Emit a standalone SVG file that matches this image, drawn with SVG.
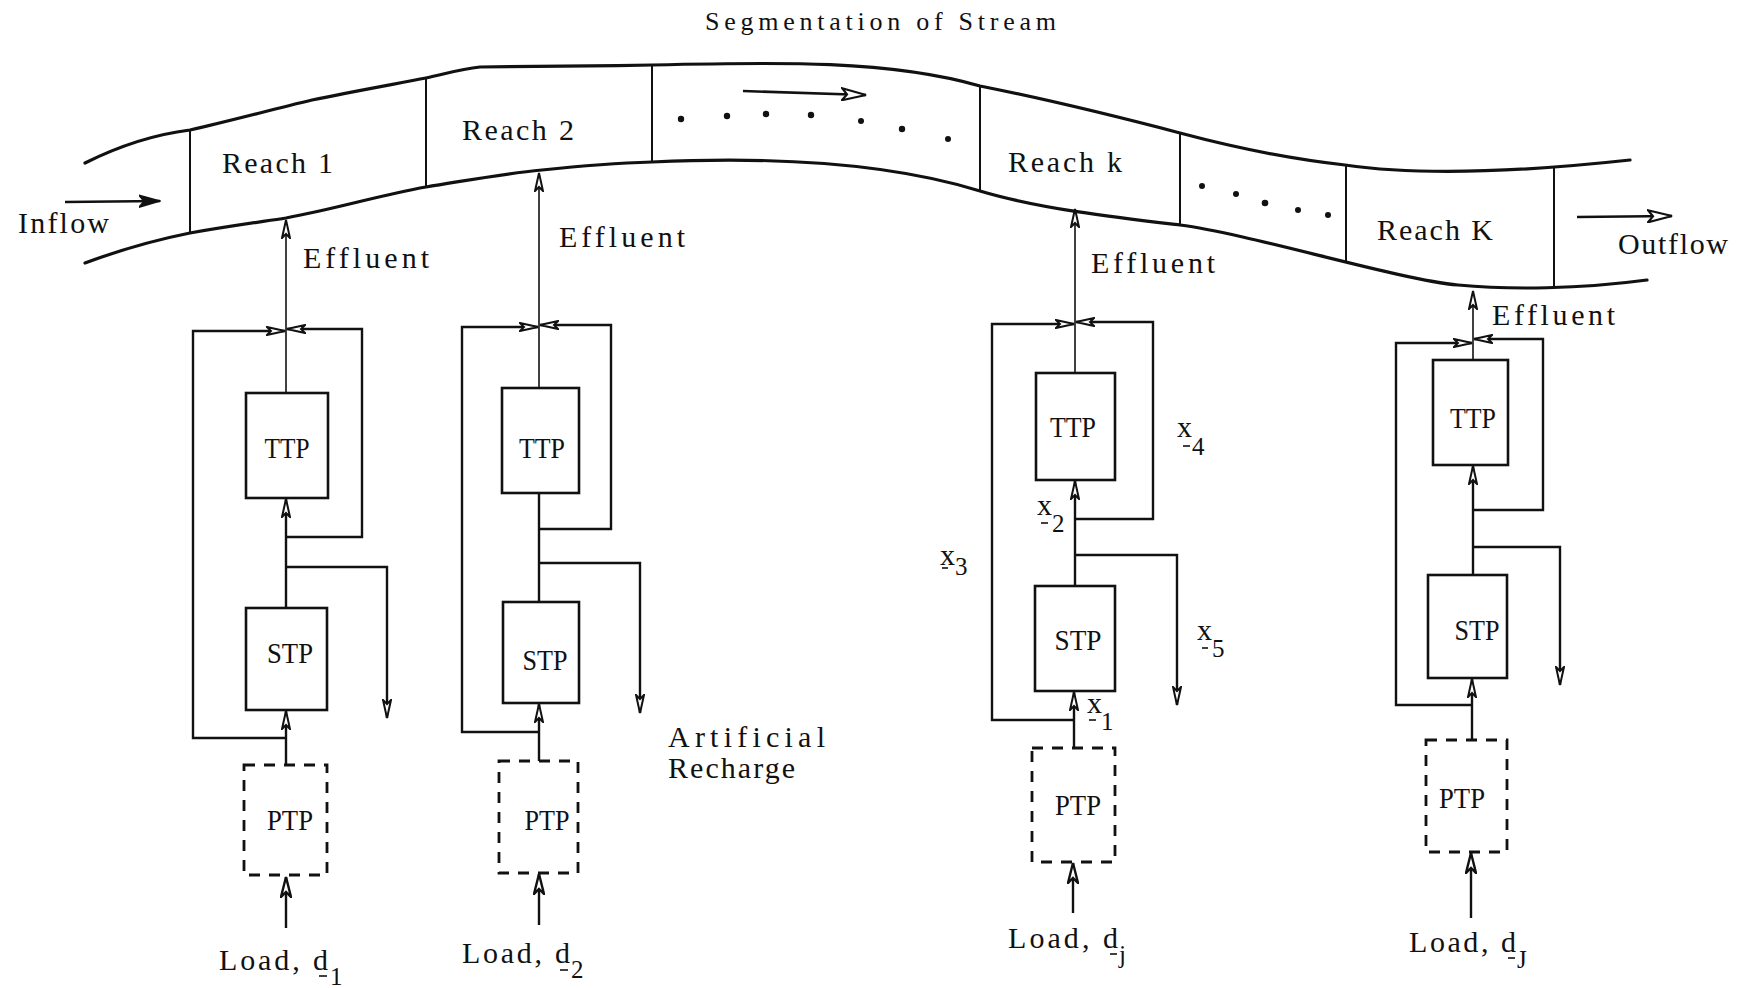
<svg xmlns="http://www.w3.org/2000/svg" width="1751" height="988" viewBox="0 0 1751 988">
<style>
  text { font-family: "Liberation Serif", "Times New Roman", serif; fill: #111; }
  .t { font-size: 30px; }
  .title { font-size: 26px; }
  .lab { font-size: 29px; text-anchor: middle; }
  .sub { font-size: 25px; }
  .stream { fill: none; stroke: #111; stroke-width: 3.2; stroke-linejoin: round; stroke-linecap: round; }
  .div { fill: none; stroke: #111; stroke-width: 2; }
  .box { fill: #fff; stroke: #111; stroke-width: 2.6; }
  .dbox { fill: #fff; stroke: #111; stroke-width: 2.8; stroke-dasharray: 11 9; }
  .ln { fill: none; stroke: #111; stroke-width: 2.4; stroke-linejoin: miter; }
  .thin { fill: none; stroke: #111; stroke-width: 1.6; }
  .flow { fill: none; stroke: #111; stroke-width: 2.6; }
  .ul { stroke: #111; stroke-width: 1.6; }
  .dot { fill: #111; }
</style>
<defs>
  <marker id="ah" viewBox="0 0 20 10" refX="19" refY="5" markerWidth="20" markerHeight="10" markerUnits="userSpaceOnUse" orient="auto">
    <path d="M1,1 L19,5 L1,9 L5,5 Z" fill="#fff" stroke="#111" stroke-width="2"/>
  </marker>
  <marker id="ahb" viewBox="0 0 22 12" refX="21" refY="6" markerWidth="22" markerHeight="12" markerUnits="userSpaceOnUse" orient="auto">
    <path d="M1,1 L21,6 L1,11 L6,6 Z" fill="#fff" stroke="#111" stroke-width="2.4"/>
  </marker>
  <marker id="ahf" viewBox="0 0 22 14" refX="21" refY="7" markerWidth="22" markerHeight="14" markerUnits="userSpaceOnUse" orient="auto">
    <path d="M0,1 L21,7 L0,13 L5,7 Z" fill="#111" stroke="#111" stroke-width="1.5"/>
  </marker>
  <marker id="aho" viewBox="0 0 26 14" refX="25" refY="7" markerWidth="26" markerHeight="14" markerUnits="userSpaceOnUse" orient="auto">
    <path d="M1,1 L25,7 L1,13 L6,7 Z" fill="#fff" stroke="#111" stroke-width="2.2"/>
  </marker>
</defs>
<rect width="1751" height="988" fill="#fff"/>

<g id="title">
  <text class="title" x="705" y="30" textLength="351" lengthAdjust="spacing">Segmentation of Stream</text>
</g>

<g id="stream">
  <path class="stream" d="M85,163 C115,148 150,135 190,130 C230,121 270,110 312,100 C350,92 395,84 426,78 C445,74 460,69 480,67 C560,66 600,66 652,65 C780,62 890,60 980,86 C1040,98 1100,112 1180,133 C1240,149 1300,160 1345,165 C1420,176 1520,172 1630,160"/>
  <path class="stream" d="M85,263 C120,250 155,240 190,233 C230,226 260,222 286,218 C340,208 380,195 426,187 C470,180 500,174 542,170 C580,166 620,163 652,162 C760,157 880,160 980,191 C1040,209 1120,218 1180,225 C1250,234 1400,280 1458,285 C1510,290 1580,289 1647,280"/>
  <line class="div" x1="190" y1="130" x2="190" y2="233"/>
  <line class="div" x1="426" y1="78" x2="426" y2="187"/>
  <line class="div" x1="652" y1="65" x2="652" y2="162"/>
  <line class="div" x1="980" y1="86" x2="980" y2="191"/>
  <line class="div" x1="1180" y1="133" x2="1180" y2="225"/>
  <line class="div" x1="1346" y1="165" x2="1346" y2="263"/>
  <line class="div" x1="1554" y1="167" x2="1554" y2="288"/>
  <circle class="dot" cx="681" cy="119" r="3.2"/>
  <circle class="dot" cx="727" cy="116" r="3.2"/>
  <circle class="dot" cx="766" cy="114" r="3.2"/>
  <circle class="dot" cx="811" cy="115" r="3.2"/>
  <circle class="dot" cx="861" cy="121" r="3"/>
  <circle class="dot" cx="902" cy="129" r="3.2"/>
  <circle class="dot" cx="948" cy="139" r="3"/>
  <circle class="dot" cx="1202" cy="186" r="3"/>
  <circle class="dot" cx="1236" cy="194" r="3"/>
  <circle class="dot" cx="1265" cy="203" r="3.3"/>
  <circle class="dot" cx="1298" cy="210" r="3"/>
  <circle class="dot" cx="1328" cy="215" r="3"/>
</g>

<g id="reach1"><text class="t" x="222" y="173" textLength="111" lengthAdjust="spacing">Reach 1</text></g>
<g id="reach2"><text class="t" x="462" y="140" textLength="112" lengthAdjust="spacing">Reach 2</text></g>
<g id="reachk"><text class="t" x="1008" y="172" textLength="114" lengthAdjust="spacing">Reach k</text></g>
<g id="reachK"><text class="t" x="1377" y="240" textLength="116" lengthAdjust="spacing">Reach K</text></g>
<g id="inflow"><text class="t" x="18" y="233" textLength="91" lengthAdjust="spacing">Inflow</text></g>
<g id="outflow"><text class="t" x="1618" y="254" textLength="110" lengthAdjust="spacing">Outflow</text></g>

<!-- Column 1 -->
<g id="ttp1"><rect class="box" x="246" y="393" width="82" height="105"/><text class="lab" x="287" y="458" textLength="45" lengthAdjust="spacingAndGlyphs">TTP</text></g>
<g id="stp1"><rect class="box" x="246" y="608" width="81" height="102"/><text class="lab" x="290" y="663" textLength="46" lengthAdjust="spacingAndGlyphs">STP</text></g>
<g id="ptp1"><rect class="dbox" x="244" y="765" width="83" height="110"/><text class="lab" x="290" y="830" textLength="46" lengthAdjust="spacingAndGlyphs">PTP</text></g>
<g id="eff1"><text class="t" x="303" y="268" textLength="126" lengthAdjust="spacing">Effluent</text></g>
<g id="load1">
  <text class="t" x="219" y="970" textLength="109" lengthAdjust="spacing">Load, d</text>
  <text class="sub" x="330" y="985">1</text>
  <line class="ul" x1="319" y1="976" x2="327" y2="976"/>
</g>

<!-- Column 2 -->
<g id="ttp2"><rect class="box" x="502" y="388" width="77" height="105"/><text class="lab" x="542" y="458" textLength="46" lengthAdjust="spacingAndGlyphs">TTP</text></g>
<g id="stp2"><rect class="box" x="503" y="602" width="76" height="101"/><text class="lab" x="545" y="670" textLength="45" lengthAdjust="spacingAndGlyphs">STP</text></g>
<g id="ptp2"><rect class="dbox" x="499" y="761" width="79" height="112"/><text class="lab" x="547" y="830" textLength="45" lengthAdjust="spacingAndGlyphs">PTP</text></g>
<g id="eff2"><text class="t" x="559" y="247" textLength="126" lengthAdjust="spacing">Effluent</text></g>
<g id="load2">
  <text class="t" x="462" y="963" textLength="108" lengthAdjust="spacing">Load, d</text>
  <text class="sub" x="571" y="978">2</text>
  <line class="ul" x1="560" y1="970" x2="568" y2="970"/>
</g>
<g id="recharge"><text class="t" x="668" y="747" textLength="157" lengthAdjust="spacing">Artificial</text><text class="t" x="668" y="778" textLength="127" lengthAdjust="spacing">Recharge</text></g>

<!-- Column 3 -->
<g id="ttp3"><rect class="box" x="1036" y="373" width="79" height="107"/><text class="lab" x="1073" y="437" textLength="46" lengthAdjust="spacingAndGlyphs">TTP</text></g>
<g id="stp3"><rect class="box" x="1035" y="586" width="80" height="105"/><text class="lab" x="1078" y="650" textLength="47" lengthAdjust="spacingAndGlyphs">STP</text></g>
<g id="ptp3"><rect class="dbox" x="1032" y="748" width="83" height="114"/><text class="lab" x="1078" y="815" textLength="46" lengthAdjust="spacingAndGlyphs">PTP</text></g>
<g id="eff3"><text class="t" x="1091" y="273" textLength="124" lengthAdjust="spacing">Effluent</text></g>
<g id="load3">
  <text class="t" x="1008" y="948" textLength="110" lengthAdjust="spacing">Load, d</text>
  <text class="sub" x="1119" y="963">j</text>
  <line class="ul" x1="1110" y1="954" x2="1117" y2="954"/>
</g>
<g id="x1"><text class="t" x="1087" y="713">x</text><text class="sub" x="1101" y="730">1</text><line class="ul" x1="1089" y1="720" x2="1096" y2="720"/></g>
<g id="x2"><text class="t" x="1037" y="515">x</text><text class="sub" x="1052" y="532">2</text><line class="ul" x1="1041" y1="523" x2="1048" y2="523"/></g>
<g id="x3"><text class="t" x="940" y="565">x</text><text class="sub" x="955" y="575">3</text><line class="ul" x1="942" y1="568" x2="948" y2="568"/></g>
<g id="x4"><text class="t" x="1177" y="437">x</text><text class="sub" x="1192" y="455">4</text><line class="ul" x1="1183" y1="446" x2="1190" y2="446"/></g>
<g id="x5"><text class="t" x="1197" y="640">x</text><text class="sub" x="1212" y="657">5</text><line class="ul" x1="1202" y1="648" x2="1208" y2="648"/></g>

<!-- Column 4 -->
<g id="ttp4"><rect class="box" x="1433" y="360" width="75" height="105"/><text class="lab" x="1473" y="428" textLength="46" lengthAdjust="spacingAndGlyphs">TTP</text></g>
<g id="stp4"><rect class="box" x="1428" y="575" width="79" height="103"/><text class="lab" x="1477" y="640" textLength="45" lengthAdjust="spacingAndGlyphs">STP</text></g>
<g id="ptp4"><rect class="dbox" x="1426" y="740" width="81" height="112"/><text class="lab" x="1462" y="808" textLength="46" lengthAdjust="spacingAndGlyphs">PTP</text></g>
<g id="eff4"><text class="t" x="1492" y="325" textLength="123" lengthAdjust="spacing">Effluent</text></g>
<g id="load4">
  <text class="t" x="1409" y="952" textLength="107" lengthAdjust="spacing">Load, d</text>
  <text class="sub" x="1517" y="968">J</text>
  <line class="ul" x1="1508" y1="958" x2="1515" y2="958"/>
</g>

<g id="connectors">
  <!-- stream flow arrows -->
  <path class="flow" d="M65,202 L160,201" marker-end="url(#ahf)"/>
  <path class="flow" d="M743,91 L866,95" marker-end="url(#aho)"/>
  <path class="flow" d="M1577,217 L1672,216" marker-end="url(#aho)"/>

  <!-- column 1 -->
  <path class="thin" d="M286,393 L286,220" marker-end="url(#ah)"/>
  <path class="ln" d="M286,738 L193,738 L193,331 L285,331" marker-end="url(#ah)"/>
  <path class="ln" d="M286,537 L362,537 L362,329 L287,329" marker-end="url(#ah)"/>
  <path class="ln" d="M286,567 L387,567 L387,718" marker-end="url(#ah)"/>
  <path class="ln" d="M286,608 L286,499" marker-end="url(#ah)"/>
  <path class="ln" d="M286,765 L286,711" marker-end="url(#ah)"/>
  <path class="ln" d="M286,928 L286,877" marker-end="url(#ahb)"/>

  <!-- column 2 -->
  <path class="thin" d="M539,388 L539,173" marker-end="url(#ah)"/>
  <path class="ln" d="M539,732 L462,732 L462,327 L538,327" marker-end="url(#ah)"/>
  <path class="ln" d="M539,529 L611,529 L611,325 L540,325" marker-end="url(#ah)"/>
  <path class="ln" d="M539,563 L640,563 L640,713" marker-end="url(#ah)"/>
  <path class="ln" d="M539,602 L539,493"/>
  <path class="ln" d="M539,761 L539,704" marker-end="url(#ah)"/>
  <path class="ln" d="M539,925 L539,874" marker-end="url(#ahb)"/>

  <!-- column 3 -->
  <path class="thin" d="M1075,373 L1075,209" marker-end="url(#ah)"/>
  <path class="ln" d="M1075,720 L992,720 L992,324 L1074,324" marker-end="url(#ah)"/>
  <path class="ln" d="M1075,519 L1153,519 L1153,322 L1076,322" marker-end="url(#ah)"/>
  <path class="ln" d="M1075,555 L1177,555 L1177,705" marker-end="url(#ah)"/>
  <path class="ln" d="M1075,586 L1075,481" marker-end="url(#ah)"/>
  <path class="ln" d="M1074,748 L1074,692" marker-end="url(#ah)"/>
  <path class="ln" d="M1073,913 L1073,863" marker-end="url(#ahb)"/>

  <!-- column 4 -->
  <path class="thin" d="M1473,360 L1473,291" marker-end="url(#ah)"/>
  <path class="ln" d="M1473,705 L1396,705 L1396,343 L1472,343" marker-end="url(#ah)"/>
  <path class="ln" d="M1473,510 L1543,510 L1543,339 L1474,339" marker-end="url(#ah)"/>
  <path class="ln" d="M1473,547 L1560,547 L1560,685" marker-end="url(#ah)"/>
  <path class="ln" d="M1473,575 L1473,466" marker-end="url(#ah)"/>
  <path class="ln" d="M1472,740 L1472,679" marker-end="url(#ah)"/>
  <path class="ln" d="M1471,918 L1471,853" marker-end="url(#ahb)"/>
</g>
</svg>
